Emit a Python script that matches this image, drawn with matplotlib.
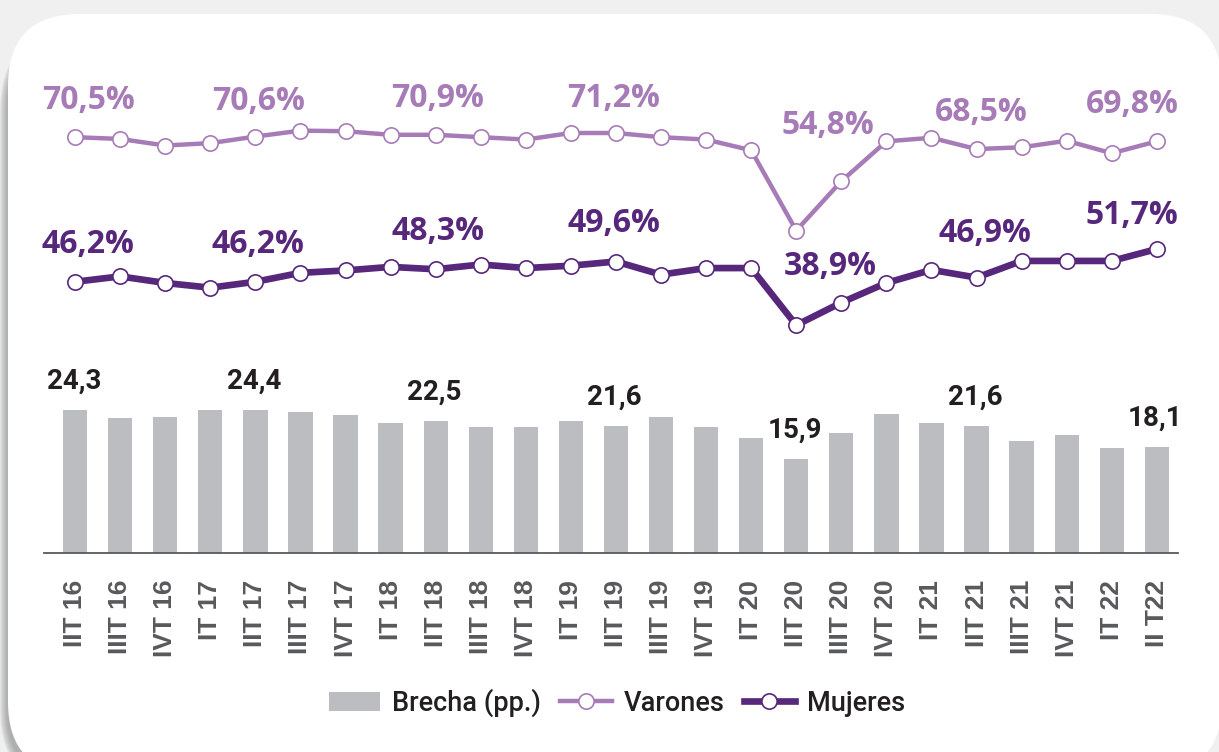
#!/usr/bin/env python3
"""Tasa de empleo por sexo y brecha (pp.), IIT16 - IIT22."""

import matplotlib
matplotlib.use("Agg")
import matplotlib.pyplot as plt
from matplotlib.lines import Line2D
from matplotlib.patches import FancyBboxPatch, Patch

periodos = [
    "IIT 16", "IIIT 16", "IVT 16", "IT 17", "IIT 17", "IIIT 17", "IVT 17",
    "IT 18", "IIT 18", "IIIT 18", "IVT 18", "IT 19", "IIT 19", "IIIT 19",
    "IVT 19", "IT 20", "IIT 20", "IIIT 20", "IVT 20", "IT 21", "IIT 21",
    "IIIT 21", "IVT 21", "IT 22", "II T22",
]
varones = [
    70.5, 70.2, 69.1, 69.5, 70.6, 71.6, 71.5, 70.9, 70.9, 70.5, 70.1, 71.2,
    71.2, 70.5, 70.1, 68.3, 54.8, 63.1, 69.8, 70.4, 68.5, 68.8, 69.9, 67.8,
    69.8,
]
mujeres = [
    46.2, 47.1, 46.0, 45.2, 46.2, 47.7, 48.1, 48.7, 48.3, 49.1, 48.5, 48.9,
    49.6, 47.4, 48.5, 48.5, 38.9, 42.7, 46.0, 48.2, 46.9, 49.7, 49.7, 49.7,
    51.7,
]
brecha = [
    24.3, 22.9, 23.1, 24.3, 24.4, 23.9, 23.5, 22.1, 22.5, 21.5, 21.5, 22.4,
    21.6, 23.1, 21.4, 19.6, 15.9, 20.4, 23.7, 22.1, 21.6, 19.0, 20.0, 17.8,
    18.1,
]
rotulados = [0, 4, 8, 12, 16, 20, 24]

# label offsets in pixels (dx, dy up) for each labelled point
off_var = [(13, 37), (3, 35), (2, 36), (-2, 35), (32, 105), (5, 37), (-25, 37)]
off_muj = [(13, 37), (3, 37), (2, 38), (-2, 38), (34, 59), (8, 44), (-25, 34)]

C_VAR = "#a77bb7"
C_MUJ = "#57277b"
C_BAR = "#bcbdc0"
C_TXT = "#231f20"

W, H = 1219, 752
fig = plt.figure(figsize=(W / 100, H / 100), dpi=100, facecolor="#f0f0f0")

# card background with soft shadow to the left / bottom
bg = fig.add_axes([0, 0, 1, 1], zorder=-5)
bg.set_xlim(0, W)
bg.set_ylim(H, 0)
bg.axis("off")
for k in range(8):
    bg.add_patch(FancyBboxPatch(
        (0 + k, 30 + k), 1214 - 2 * k, 760 - 2 * k,
        boxstyle="round,pad=0,rounding_size=%d" % (80 - k),
        fc="#8e8f91", ec="none", alpha=0.12,
    ))
bg.add_patch(FancyBboxPatch(
    (8, 14), 1214, 760, boxstyle="round,pad=0,rounding_size=72",
    fc="white", ec="none",
))

x = list(range(len(periodos)))
xlim = (-0.69, 24.47)
left, width = 44 / W, 1134 / W


def fmt(v, pct=True):
    s = f"{v:.1f}".replace(".", ",")
    return s + "%" if pct else s


# lines
ax = fig.add_axes([left, (H - 348.4) / H, width, 238 / H])
ax.set_xlim(*xlim)
ax.set_ylim(35, 75)
ax.axis("off")
ax.plot(x, varones, color=C_VAR, lw=3.2, marker="o", ms=11, mfc="white",
        mec=C_VAR, mew=1.2, zorder=3)
ax.plot(x, mujeres, color=C_MUJ, lw=4.8, marker="o", ms=11, mfc="white",
        mec=C_MUJ, mew=1.2, zorder=3)
for i, (dx, dy) in zip(rotulados, off_var):
    ax.annotate(fmt(varones[i]), (i, varones[i]), xytext=(dx * 0.72, dy * 0.72),
                textcoords="offset points", ha="center", va="center",
                fontsize=23, fontweight="bold", family="Open Sans", color=C_VAR)
for i, (dx, dy) in zip(rotulados, off_muj):
    ax.annotate(fmt(mujeres[i]), (i, mujeres[i]), xytext=(dx * 0.72, dy * 0.72),
                textcoords="offset points", ha="center", va="center",
                fontsize=23, fontweight="bold", family="Open Sans", color=C_MUJ)

# bars
axb = fig.add_axes([left, (H - 552.7) / H, width, 176 / H])
axb.set_xlim(*xlim)
axb.set_ylim(0, 30)
axb.bar(x, brecha, width=0.54, color=C_BAR, zorder=2)
for i in rotulados:
    axb.annotate(fmt(brecha[i], False), (i, brecha[i]), xytext=(-1, 11),
                 textcoords="offset points", ha="center", va="bottom",
                 fontsize=20, fontweight="bold", family="Roboto", color=C_TXT)
for s in ("top", "right", "left"):
    axb.spines[s].set_visible(False)
axb.spines["bottom"].set_color("#58595b")
axb.spines["bottom"].set_linewidth(1.3)
axb.set_yticks([])
axb.set_xticks(x)
axb.set_xticklabels(periodos, rotation=90, fontsize=19, fontweight="bold",
                    family="Liberation Sans", color="#58595b")
axb.tick_params(axis="x", length=0, pad=19.5)
axb.patch.set_alpha(0)

handles = [
    Patch(fc=C_BAR, ec="none"),
    Line2D([], [], color=C_VAR, lw=3.2, marker="o", ms=11, mfc="white",
           mec=C_VAR, mew=1.2),
    Line2D([], [], color=C_MUJ, lw=4.8, marker="o", ms=11, mfc="white",
           mec=C_MUJ, mew=1.2),
]
leg = fig.legend(handles, ["Brecha (pp.)", "Varones", "Mujeres"],
                 loc="center", bbox_to_anchor=(617 / W, (H - 703) / H),
                 ncol=3, frameon=False,
                 prop={"family": "Roboto", "size": 19.5, "weight": "medium"},
                 handlelength=1.9, handletextpad=0.45, columnspacing=0.7)
for t in leg.get_texts():
    t.set_color(C_TXT)

fig.savefig("out.png", dpi=100, facecolor=fig.get_facecolor())
